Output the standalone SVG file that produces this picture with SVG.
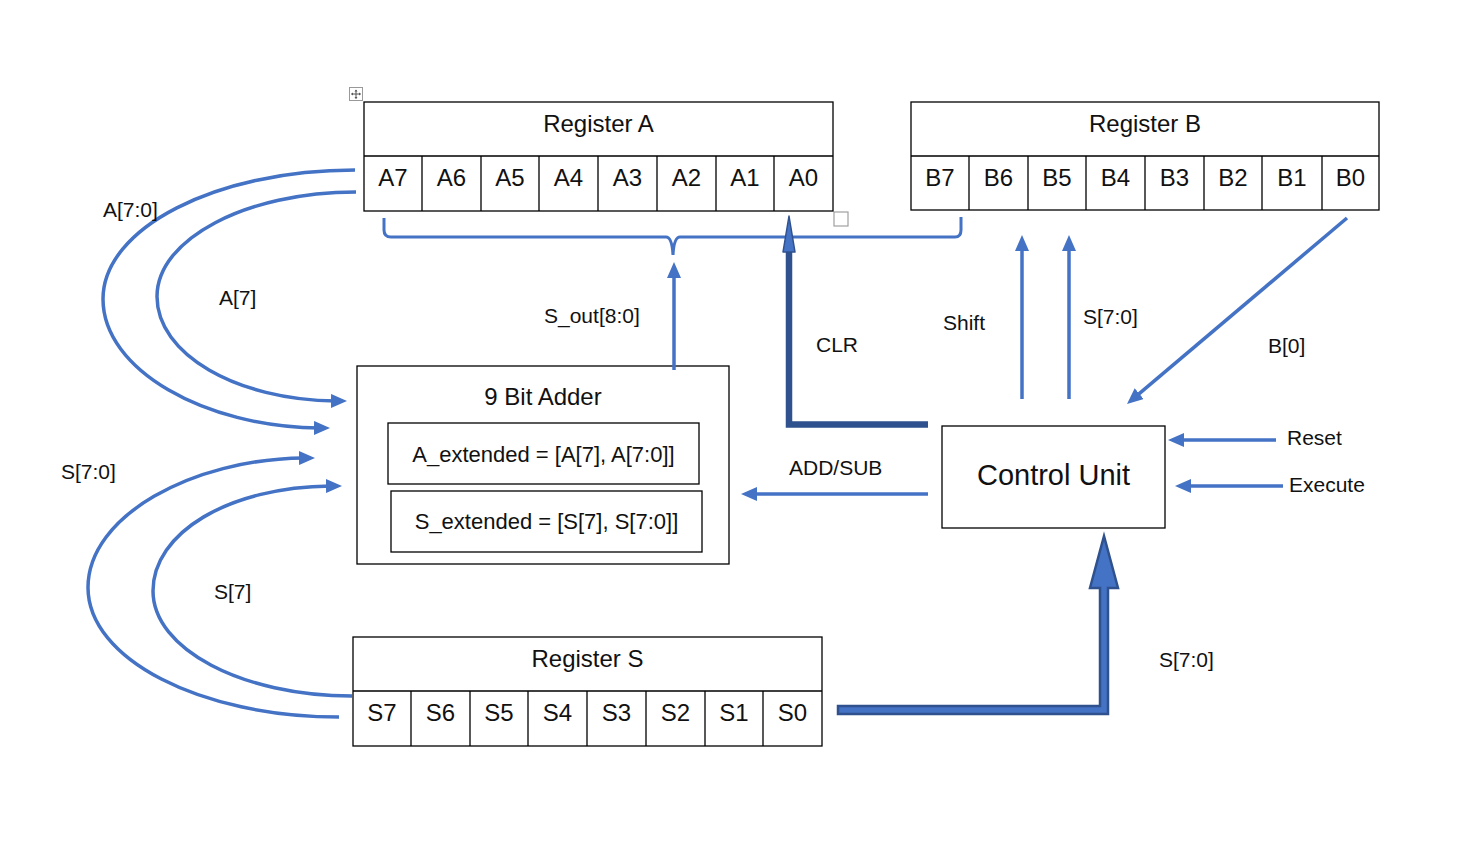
<svg xmlns="http://www.w3.org/2000/svg" width="1475" height="861" viewBox="0 0 1475 861">
<style>
text{font-family:"Liberation Sans","Noto Sans",Arial,sans-serif;fill:#111}
.box{fill:#fff;stroke:#000;stroke-width:1.3}
.ln{fill:none;stroke:#000;stroke-width:1.3}
.ttl{font-size:24px;text-anchor:middle}
.cell{font-size:24px;text-anchor:middle}
.lbl{font-size:21px}
.in{font-size:22px;text-anchor:middle}
.wire{fill:none;stroke:#4472C4;stroke-width:3.5;marker-end:url(#ah)}
</style>
<defs>
<marker id="ah" markerUnits="userSpaceOnUse" markerWidth="16" markerHeight="14" viewBox="0 0 16 14" refX="5" refY="7" orient="auto">
<path d="M0,0 L16,7 L0,14 Z" fill="#4472C4"/>
</marker>
</defs>
<rect width="1475" height="861" fill="#fff"/>

<!-- table decorations -->
<g id="decor">
<rect x="349.5" y="87.5" width="13" height="13" fill="#fff" stroke="#999" stroke-width="1"/>
<path d="M356,90 V98.5 M351.5,94 H360.5" stroke="#555" stroke-width="1" fill="none"/>
<path d="M356,89.5 l-1.5,2 h3 Z M356,99 l-1.5,-2 h3 Z M351,94 l2,-1.5 v3 Z M361,94 l-2,-1.5 v3 Z" fill="#555"/>
<rect x="834" y="212" width="14" height="14" fill="#fff" stroke="#a0a0a0" stroke-width="1.2"/>
</g>

<g id="registerA">
<rect class="box" x="364" y="102" width="469" height="109"/>
<path class="ln" d="M364,156 H833 M422,156 V211 M481,156 V211 M539,156 V211 M598,156 V211 M657,156 V211 M716,156 V211 M774,156 V211"/>
<text class="ttl" x="598.5" y="132">Register A</text>
<text class="cell" x="393" y="186">A7</text>
<text class="cell" x="451.5" y="186">A6</text>
<text class="cell" x="510" y="186">A5</text>
<text class="cell" x="568.5" y="186">A4</text>
<text class="cell" x="627.5" y="186">A3</text>
<text class="cell" x="686.5" y="186">A2</text>
<text class="cell" x="745" y="186">A1</text>
<text class="cell" x="803.5" y="186">A0</text>
</g>

<g id="registerB">
<rect class="box" x="911" y="102" width="468" height="108"/>
<path class="ln" d="M911,156 H1379 M969,156 V210 M1028,156 V210 M1086,156 V210 M1145,156 V210 M1204,156 V210 M1262,156 V210 M1322,156 V210"/>
<text class="ttl" x="1145" y="132">Register B</text>
<text class="cell" x="940" y="186">B7</text>
<text class="cell" x="998.5" y="186">B6</text>
<text class="cell" x="1057" y="186">B5</text>
<text class="cell" x="1115.5" y="186">B4</text>
<text class="cell" x="1174.5" y="186">B3</text>
<text class="cell" x="1233" y="186">B2</text>
<text class="cell" x="1292" y="186">B1</text>
<text class="cell" x="1350.5" y="186">B0</text>
</g>

<g id="registerS">
<rect class="box" x="353" y="637" width="469" height="109"/>
<path class="ln" d="M353,691 H822 M411,691 V746 M470,691 V746 M528,691 V746 M587,691 V746 M646,691 V746 M705,691 V746 M763,691 V746"/>
<text class="ttl" x="587.5" y="667">Register S</text>
<text class="cell" x="382" y="721">S7</text>
<text class="cell" x="440.5" y="721">S6</text>
<text class="cell" x="499" y="721">S5</text>
<text class="cell" x="557.5" y="721">S4</text>
<text class="cell" x="616.5" y="721">S3</text>
<text class="cell" x="675.5" y="721">S2</text>
<text class="cell" x="734" y="721">S1</text>
<text class="cell" x="792.5" y="721">S0</text>
</g>

<g id="adder">
<rect class="box" x="357" y="366" width="372" height="198"/>
<text class="ttl" x="543" y="405">9 Bit Adder</text>
<rect class="box" x="388" y="423" width="311" height="61"/>
<text class="in" x="543.5" y="462">A_extended = [A[7], A[7:0]]</text>
<rect class="box" x="391" y="491" width="311" height="61"/>
<text class="in" x="546.5" y="529">S_extended = [S[7], S[7:0]]</text>
</g>

<g id="controlUnit">
<rect class="box" x="942" y="426" width="223" height="102"/>
<text x="1053.5" y="485" style="font-size:29px;text-anchor:middle">Control Unit</text>
</g>

<g id="connectors">
<path class="wire" d="M355,170 C216,170 103,228 103,299 C103,370 205,427 319,428"/>
<path class="wire" d="M356,192 C246,192 157,239 157,296.5 C157,354 236,400 336,401"/>
<path class="wire" d="M339,717 C200,717 88,659 88,587.5 C88,516 192,459 304,458"/>
<path class="wire" d="M352,696 C242,696 153,649 153,591 C153,533 228,487 331,486"/>
<path fill="none" stroke="#4472C4" stroke-width="3" d="M384,218 V230 Q384,237 391,237 H666 Q672,237 673,255 Q674,237 680,237 H955 Q961,237 961,230 V217"/>
<path class="wire" d="M674,370 V273"/>
<path class="wire" d="M1022,399 V246"/>
<path class="wire" d="M1069,399 V246"/>
<path class="wire" d="M1347,218 L1135.4,396.9"/>
<path class="wire" d="M1276,440 H1179"/>
<path class="wire" d="M1283,486 H1186"/>
<path class="wire" d="M928,494 H752"/>
<path fill="none" stroke="#2F528F" stroke-width="6.5" d="M928,424.5 H789 V250"/>
<path d="M789,216 L795,252 L783,252 Z" fill="#4472C4" stroke="#2F528F" stroke-width="1.5" stroke-linejoin="round"/>
<path d="M838,706 H1100 V588 H1090 L1104,536 L1118,588 H1108 V714 H838 Z" fill="#4472C4" stroke="#2F528F" stroke-width="2.5"/>
</g>

<g id="labels">
<text class="lbl" x="103" y="217">A[7:0]</text>
<text class="lbl" x="219" y="305">A[7]</text>
<text class="lbl" x="61" y="479">S[7:0]</text>
<text class="lbl" x="214" y="599">S[7]</text>
<text class="lbl" x="544" y="323">S_out[8:0]</text>
<text class="lbl" x="816" y="352">CLR</text>
<text class="lbl" x="943" y="330">Shift</text>
<text class="lbl" x="1083" y="324">S[7:0]</text>
<text class="lbl" x="1268" y="353">B[0]</text>
<text class="lbl" x="789" y="475">ADD/SUB</text>
<text class="lbl" x="1287" y="445">Reset</text>
<text class="lbl" x="1289" y="492">Execute</text>
<text class="lbl" x="1159" y="667">S[7:0]</text>
</g>
</svg>
